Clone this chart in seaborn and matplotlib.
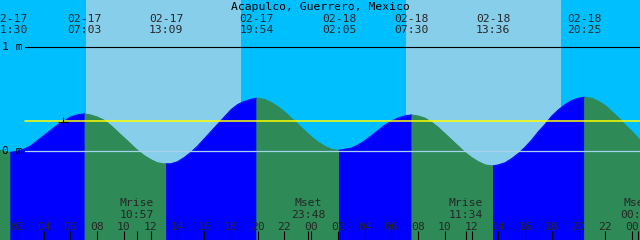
import numpy as np
import pandas as pd
import matplotlib
matplotlib.use("Agg")
import matplotlib.pyplot as plt
import seaborn as sns
from matplotlib.transforms import blended_transform_factory

# ---------------- data ----------------
title = "Acapulco, Guerrero, Mexico"
tide_dates = ["02-17", "02-17", "02-17", "02-17", "02-18", "02-18", "02-18", "02-18"]
tide_times = ["01:30", "07:03", "13:09", "19:54", "02:05", "07:30", "13:36", "20:25"]
tide_levels = [-0.01, 0.36, -0.12, 0.51, 0.01, 0.35, -0.14, 0.52]

# water level (hours since 02-17 00:00), metres
hourly_hours = list(range(0, 50))
hourly_levels = [0.06, 0.00, 0.00, 0.05, 0.15, 0.25, 0.33, 0.36, 0.33, 0.25,
                 0.13, 0.01, -0.08, -0.12, -0.10, -0.01, 0.12, 0.26, 0.40, 0.48,
                 0.51, 0.47, 0.38, 0.26, 0.14, 0.05, 0.01, 0.03, 0.10, 0.20,
                 0.29, 0.34, 0.34, 0.28, 0.17, 0.05, -0.06, -0.13, -0.13, -0.07,
                 0.04, 0.19, 0.34, 0.45, 0.51, 0.51, 0.44, 0.32, 0.19, 0.06]
halfhour_hours = [h + 0.5 for h in range(0, 49)]
halfhour_levels = [0.02, -0.01, 0.02, 0.10, 0.20, 0.29, 0.35, 0.35, 0.30, 0.19,
                   0.07, -0.04, -0.11, -0.12, -0.06, 0.05, 0.19, 0.33, 0.45, 0.50,
                   0.50, 0.43, 0.32, 0.20, 0.09, 0.02, 0.02, 0.06, 0.15, 0.25,
                   0.32, 0.35, 0.32, 0.23, 0.11, -0.01, -0.10, -0.14, -0.11, -0.02,
                   0.11, 0.26, 0.40, 0.49, 0.52, 0.48, 0.38, 0.25, 0.12]

sun_dates = ["02-17", "02-17", "02-18", "02-18"]
sun_events = ["rise", "set", "rise", "set"]
sun_times = ["07:10", "18:45", "07:05", "18:41"]

moon_labels = ["Mrise", "Mset", "Mrise", "Mset"]
moon_dates = ["02-17", "02-17", "02-18", "02-19"]
moon_times = ["10:57", "23:48", "11:34", "00:25"]

mean_level = 0.295
tick_hours = list(range(2, 49, 2))

# ---------------- helpers ----------------
def to_hours(date, t):
    day = int(date.split("-")[1]) - 17
    h, m = t.split(":")
    return day * 24 + int(h) + int(m) / 60.0

tide_h = [to_hours(d, t) for d, t in zip(tide_dates, tide_times)]
sun_h = [to_hours(d, t) for d, t in zip(sun_dates, sun_times)]
moon_h = [to_hours(d, t) for d, t in zip(moon_dates, moon_times)]

X0, X1 = 0.728, 48.596
Y0, Y1 = -0.853, 1.455

pts = pd.DataFrame({"hour": tide_h + hourly_hours + halfhour_hours,
                    "level": tide_levels + hourly_levels + halfhour_levels})
pts = pts.drop_duplicates("hour").sort_values("hour").reset_index(drop=True)

bounds = [-1e9] + tide_h + [1e9]
rows = []
for i in range(len(bounds) - 1):
    a, b = bounds[i], bounds[i + 1]
    seg = pts[(pts.hour >= a) & (pts.hour <= b)].copy()
    if i < len(tide_h):
        k = i
        nb = tide_levels[k - 1] if k > 0 else tide_levels[k + 1]
        rising = tide_levels[k] > nb
    else:
        rising = False
    seg["segment"] = i
    seg["phase"] = "rising" if rising else "falling"
    rows.append(seg)
df = pd.concat(rows, ignore_index=True)

# ---------------- plot ----------------
sns.set_theme(style="white")
plt.rcParams["font.family"] = ["DejaVu Sans Mono", "DejaVu Sans"]
FS = 8.2

NIGHT, DAY = "#00BFFF", "#87CEEB"
RISE, FALL = "#0000FF", "#2E8B57"

fig = plt.figure(figsize=(6.4, 2.4), dpi=100, facecolor=NIGHT)
ax = fig.add_axes([0, 0, 1, 1])
ax.set_facecolor(NIGHT)

for i in range(0, len(sun_h), 2):
    ax.axvspan(sun_h[i], sun_h[i + 1], color=DAY, lw=0, zorder=0)

pal = {"rising": RISE, "falling": FALL}
for s, g in df.groupby("segment"):
    c = pal[g.phase.iloc[0]]
    ax.fill_between(g.hour, g.level, Y0, color=c, lw=0.6, edgecolor=c, zorder=1)
sns.lineplot(data=df, x="hour", y="level", hue="phase", units="segment",
             estimator=None, palette=pal, legend=False, lw=0.7, ax=ax,
             sort=False, zorder=2)
ax.set_xlim(X0, X1)
ax.set_ylim(Y0, Y1)
ax.set_axis_off()

trans = blended_transform_factory(ax.transData, ax.transAxes)
def py(p):  # pixel row from top -> axes fraction
    return 1 - p / 240.0

x_line0 = X0 + 25 / 13.37
ax.plot([x_line0, X1], [1, 1], color="black", lw=0.8, zorder=3)
ax.plot([x_line0, X1], [0, 0], color="#a6d2ec", lw=0.9, zorder=3)
ax.plot([x_line0, X1], [mean_level, mean_level], color="#FFFF00", lw=1.1, zorder=3)

# current-time cross on the curve
now_h = 5.44
now_lvl = float(np.interp(now_h, pts.hour, pts.level))
ax.plot([now_h], [now_lvl], marker="+", color="black", ms=6.5, mew=0.8, zorder=4)

ax.text(X0 + 2 / 13.37, 1, "1 m", fontsize=FS, va="center", ha="left", color="black")
ax.text(X0 + 2 / 13.37, 0, "0 m", fontsize=FS, va="center", ha="left", color="black")

ax.text(0.5, py(10), title, transform=ax.transAxes, ha="center", va="baseline",
        fontsize=FS, color="black")
for d, t, h in zip(tide_dates, tide_times, tide_h):
    ax.text(h, py(21.7), d, transform=trans, ha="center", va="baseline", fontsize=FS)
    ax.text(h, py(33), t, transform=trans, ha="center", va="baseline", fontsize=FS)

for lab, t, h in zip(moon_labels, moon_times, moon_h):
    ax.text(h, py(206), lab, transform=trans, ha="center", va="baseline", fontsize=FS)
    ax.text(h, py(218), t, transform=trans, ha="center", va="baseline", fontsize=FS)

for h in tick_hours:
    ax.text(h, py(229.5), f"{h % 24:02d}", transform=trans, ha="center",
            va="baseline", fontsize=FS)
ax.vlines(tick_hours + moon_h, py(240), py(231), transform=trans,
          color="black", lw=0.8, zorder=5)

fig.savefig("out.png", dpi=100, facecolor=NIGHT)
